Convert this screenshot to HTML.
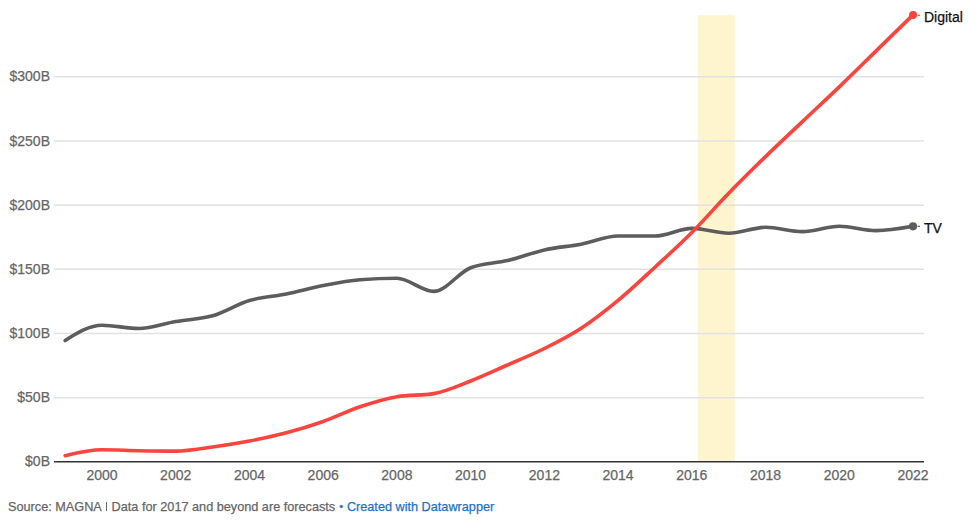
<!DOCTYPE html>
<html><head><meta charset="utf-8">
<style>
html,body{margin:0;padding:0;background:#fff;}
body{width:975px;height:524px;overflow:hidden;position:relative;font-family:"Liberation Sans",sans-serif;}
svg{position:absolute;left:0;top:0;}
.g{stroke:#e2e2e2;stroke-width:1.5;}
.yl,.xl,.lab,.foot{-webkit-text-stroke:0.25px currentColor;}
.yl{position:absolute;right:925px;font-size:14px;color:#666;line-height:1;white-space:nowrap;}
.xl{position:absolute;font-size:14px;color:#666;line-height:1;width:60px;text-align:center;}
.lab{position:absolute;font-size:14px;color:#111;line-height:1;white-space:nowrap;}
.foot{position:absolute;left:8px;top:500.7px;font-size:12.7px;color:#666;line-height:1;white-space:nowrap;}
.foot a{color:#1d72c6;text-decoration:none;}
</style></head><body>
<svg width="975" height="524" viewBox="0 0 975 524">
<rect x="697.8" y="15.1" width="36.9" height="446.5" fill="#fef5cf"/>
<line x1="54" x2="924" y1="76.80" y2="76.80" class="g"/><line x1="54" x2="924" y1="140.97" y2="140.97" class="g"/><line x1="54" x2="924" y1="205.13" y2="205.13" class="g"/><line x1="54" x2="924" y1="269.30" y2="269.30" class="g"/><line x1="54" x2="924" y1="333.47" y2="333.47" class="g"/><line x1="54" x2="924" y1="397.63" y2="397.63" class="g"/>
<line x1="54" x2="924" y1="461.80" y2="461.80" stroke="#333" stroke-width="1.5"/>
<path d="M65.14,340.50C77.42,332.85,89.71,325.20,102.00,325.20C114.29,325.20,126.58,328.50,138.86,328.50C151.15,328.50,163.44,323.62,175.73,321.50C188.02,319.38,200.30,319.28,212.59,315.80C224.88,312.32,237.17,304.23,249.46,300.60C261.74,296.97,274.03,296.50,286.32,294.00C298.61,291.50,310.90,287.97,323.18,285.60C335.47,283.23,347.76,280.80,360.05,279.80C372.34,278.80,384.62,278.30,396.91,278.30C409.20,278.30,421.49,291.40,433.78,291.40C446.06,291.40,458.35,272.43,470.64,267.70C482.93,262.97,495.22,263.57,507.50,260.60C519.79,257.63,532.08,252.63,544.37,249.90C556.66,247.17,568.94,246.52,581.23,244.20C593.52,241.88,605.81,236.00,618.10,236.00C630.38,236.00,642.67,236.00,654.96,236.00C667.25,236.00,679.54,228.40,691.82,228.40C704.11,228.40,716.40,233.30,728.69,233.30C740.98,233.30,753.26,227.30,765.55,227.30C777.84,227.30,790.13,231.60,802.42,231.60C814.70,231.60,826.99,226.30,839.28,226.30C851.57,226.30,863.86,230.60,876.14,230.60C888.43,230.60,900.72,228.45,913.01,226.30" fill="none" stroke="#5d5d5d" stroke-width="3.6" stroke-linejoin="round" stroke-linecap="round"/>
<path d="M65.14,455.70C77.42,452.75,89.71,449.80,102.00,449.80C114.29,449.80,126.58,450.48,138.86,450.70C151.15,450.92,163.44,451.10,175.73,451.10C188.02,451.10,200.30,448.68,212.59,447.00C224.88,445.32,237.17,443.37,249.46,441.00C261.74,438.63,274.03,436.05,286.32,432.80C298.61,429.55,310.90,425.83,323.18,421.50C335.47,417.17,347.76,410.93,360.05,406.80C372.34,402.67,384.62,398.77,396.91,396.70C409.20,394.63,421.49,395.67,433.78,393.60C446.06,391.53,458.35,385.77,470.64,381.00C482.93,376.23,495.22,370.42,507.50,365.00C519.79,359.58,532.08,354.63,544.37,348.50C556.66,342.37,568.94,336.22,581.23,328.20C593.52,320.18,605.81,310.57,618.10,300.40C630.38,290.23,642.67,278.52,654.96,267.20C667.25,255.88,679.54,244.82,691.82,232.50C704.11,220.18,716.40,205.95,728.69,193.30C740.98,180.65,753.26,168.55,765.55,156.60C777.84,144.65,790.13,133.22,802.42,121.60C814.70,109.98,826.99,98.68,839.28,86.90C851.57,75.12,863.86,62.90,876.14,50.90C888.43,38.90,900.72,26.90,913.01,14.90" fill="none" stroke="#fa453f" stroke-width="3.6" stroke-linejoin="round" stroke-linecap="round"/>
<circle cx="913.01" cy="226.30" r="4.1" fill="#5d5d5d"/>
<circle cx="913.01" cy="14.90" r="4" fill="#fa453f"/>
<line x1="917.5" x2="920" y1="226.30" y2="226.30" stroke="#5f5f5f" stroke-width="1.2"/>
<line x1="917.5" x2="920" y1="15.30" y2="15.30" stroke="#fa453f" stroke-width="1.2"/>
</svg>
<div class="yl" style="top:69.40px">$300B</div>
<div class="yl" style="top:133.57px">$250B</div>
<div class="yl" style="top:197.73px">$200B</div>
<div class="yl" style="top:261.90px">$150B</div>
<div class="yl" style="top:326.07px">$100B</div>
<div class="yl" style="top:390.23px">$50B</div>
<div class="yl" style="top:454.40px">$0B</div>

<div class="xl" style="left:72.0px;top:467.8px">2000</div>
<div class="xl" style="left:145.7px;top:467.8px">2002</div>
<div class="xl" style="left:219.5px;top:467.8px">2004</div>
<div class="xl" style="left:293.2px;top:467.8px">2006</div>
<div class="xl" style="left:366.9px;top:467.8px">2008</div>
<div class="xl" style="left:440.6px;top:467.8px">2010</div>
<div class="xl" style="left:514.4px;top:467.8px">2012</div>
<div class="xl" style="left:588.1px;top:467.8px">2014</div>
<div class="xl" style="left:661.8px;top:467.8px">2016</div>
<div class="xl" style="left:735.6px;top:467.8px">2018</div>
<div class="xl" style="left:809.3px;top:467.8px">2020</div>
<div class="xl" style="left:883.0px;top:467.8px">2022</div>

<div class="lab" style="left:924px;top:10.4px">Digital</div>
<div class="lab" style="left:924px;top:221.0px">TV</div>
<div class="foot">Source: MAGNA <span style="display:inline-block;width:1.3px;height:9.2px;background:#6a6a6a;margin:0 1px 0 1.2px"></span> Data for 2017 and beyond are forecasts<a><span style="margin:0 3.8px 0 4px;font-size:11px;vertical-align:0.5px">&bull;</span>Created with Datawrapper</a></div>
</body></html>
